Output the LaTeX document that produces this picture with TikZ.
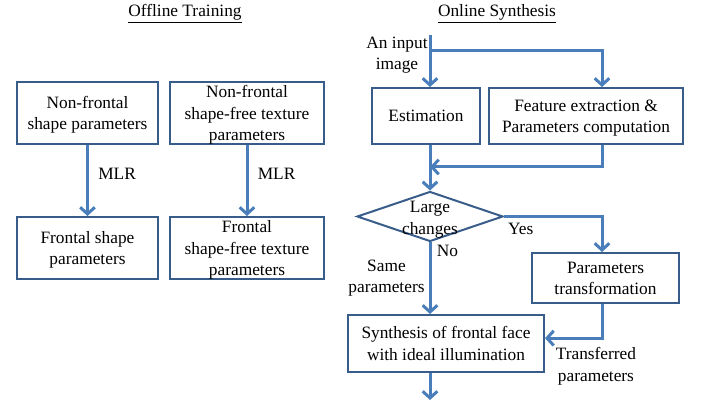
\documentclass[tikz,border=0pt]{standalone}
\usepackage{fontspec}
\setmainfont{Liberation Serif}
\usepackage{xcolor}
\definecolor{boxblue}{RGB}{56,93,138}
\definecolor{arrowblue}{RGB}{74,126,187}
\usetikzlibrary{arrows.meta,positioning,calc,shapes.geometric}
\tikzset{
  flowbox/.style={draw=boxblue,line width=1.5pt,align=center,inner sep=0pt,text depth=-2pt},
  flowline/.style={draw=arrowblue,line width=2.25pt},
  flowarrow/.style={flowline,-{Straight Barb[length=5pt,width=11pt]}},
  decision/.style={diamond,draw=boxblue,line width=1.5pt,inner sep=0pt,
                   minimum width=109.5pt,minimum height=37.5pt},
  lbl/.style={align=center,inner sep=1pt},
}

\begin{document}
\begin{tikzpicture}[x=0.75pt,y=-0.75pt,font=\fontsize{13}{16}\selectfont]
  \useasboundingbox (0,0) rectangle (704,402);
  % offline training
  \node[lbl] (offtitle) at (185,14) {\underline{Offline Training}};
  \node[flowbox,minimum width=105.75pt,minimum height=46.5pt] (nfshape) at (87.5,113)
    {Non-frontal\\shape parameters};
  \node[flowbox,minimum width=115.5pt,minimum height=46.5pt] (nftex) at (247,113)
    {Non-frontal\\shape-free texture\\parameters};
  \node[flowbox,minimum width=105.75pt,minimum height=46.5pt] (frshape) at (87.5,248)
    {Frontal shape\\parameters};
  \node[flowbox,minimum width=115.5pt,minimum height=46.5pt] (frtex) at (247,248)
    {Frontal\\shape-free texture\\parameters};
  \draw[flowarrow] (nfshape) -- (frshape) node[lbl,pos=0.4,right=6pt] {MLR};
  \draw[flowarrow] (nftex) -- (frtex) node[lbl,pos=0.4,right=6pt] {MLR};

  % online synthesis
  \node[lbl] (ontitle) at (497,14) {\underline{Online Synthesis}};
  \coordinate (in) at (430,35);
  \coordinate (fork) at (430,51);
  \coordinate (rcol) at (602,0);
  \coordinate (join) at (430,167);
  \coordinate (out) at (430,400);
  \node[lbl] (inlbl) at (397,55) {An input\\image};
  \node[flowbox,minimum width=81pt,minimum height=42pt] (est) at (426,116) {Estimation};
  \node[flowbox,minimum width=145.5pt,minimum height=42pt] (feat) at (586,116)
    {Feature extraction \&\\Parameters computation};
  \node[decision,label={[lbl,yshift=-2.5pt]center:Large\\changes}] (dec) at (430,216.5) {};
  \node[flowbox,minimum width=110.25pt,minimum height=37.5pt] (ptrans) at (605.5,278)
    {Parameters\\transformation};
  \node[flowbox,minimum width=147pt,minimum height=42.75pt] (synth) at (446,343.5)
    {Synthesis of frontal face\\with ideal illumination};

  \draw[flowarrow] (in) -- (in |- est.north);
  \draw[flowarrow] (fork) -| (rcol |- feat.north);
  \draw[flowarrow] (in |- est.south) -- (dec.north);
  \draw[flowarrow] (rcol |- feat.south) |- (join);
  \draw[flowarrow] (dec.east) -| (rcol |- ptrans.north)
    node[lbl,pos=0,anchor=north west,xshift=1pt,yshift=-2.5pt] {Yes};
  \draw[flowarrow] (dec.south) -- (dec.south |- synth.north)
    node[lbl,pos=0,anchor=north west,xshift=3pt] {No}
    node[lbl,midway,left=2pt] {Same\\parameters};
  \draw[flowarrow] (rcol |- ptrans.south) |- ([yshift=4pt]synth.east)
    node[lbl,pos=1,anchor=north west,xshift=6pt,yshift=-5pt] {Transferred\\parameters};
  \draw[flowarrow] (in |- synth.south) -- (out);
\end{tikzpicture}
\end{document}
